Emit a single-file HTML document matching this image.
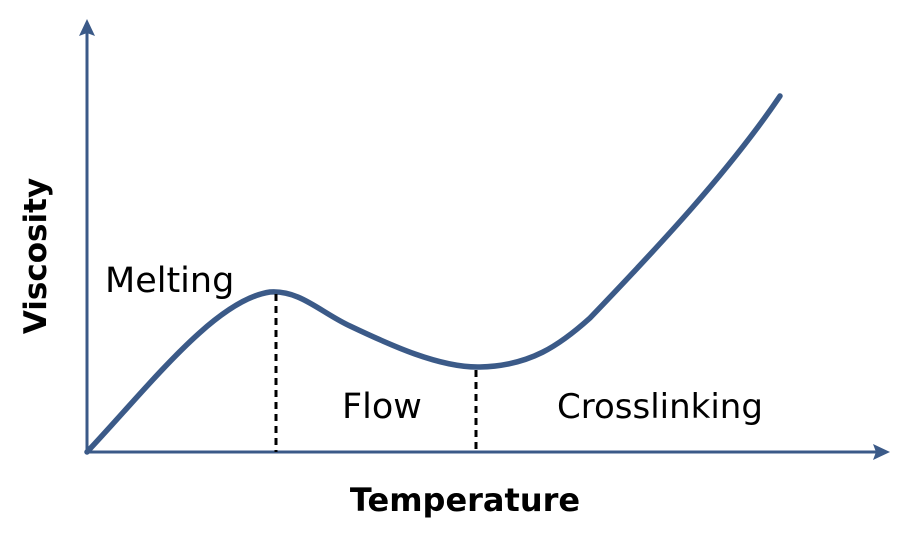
<!DOCTYPE html>
<html><head><style>body{margin:0;background:#fff}svg{display:block}</style></head><body>
<svg width="900" height="550" viewBox="0 0 900 550" xmlns="http://www.w3.org/2000/svg">
<g stroke="#3b5a88" fill="#3b5a88">
<line x1="87" y1="453" x2="87" y2="32" stroke-width="3"/>
<polygon points="87,19 79,36 87,33 95,36" stroke="none"/>
<line x1="86" y1="452" x2="876" y2="452" stroke-width="3"/>
<polygon points="890,452 873,444 876,452 873,460" stroke="none"/>
<path d="M87,452 C150,385 215,300 270,292 C300,290 320,312 350,326 C390,345 440,368 480,367 C530,366 560,345 590,318 C660,245 730,170 780,96" fill="none" stroke-width="5.5" stroke-linecap="round"/>
</g>
<g stroke="#000" stroke-width="3" stroke-dasharray="7,5">
<line x1="276" y1="294" x2="276" y2="452"/>
<line x1="476" y1="370" x2="476" y2="452"/>
</g>
<g font-family="'DejaVu Sans','Liberation Sans',sans-serif" fill="#000">
<text x="105" y="292" font-size="35">Melting</text>
<text x="342" y="418" font-size="35">Flow</text>
<text x="557" y="418" font-size="34">Crosslinking</text>
<text x="465" y="511" font-size="32" font-weight="bold" text-anchor="middle">Temperature</text>
<text transform="translate(46,256) rotate(-90)" font-size="31" font-weight="bold" text-anchor="middle">Viscosity</text>
</g>
</svg>
</body></html>
